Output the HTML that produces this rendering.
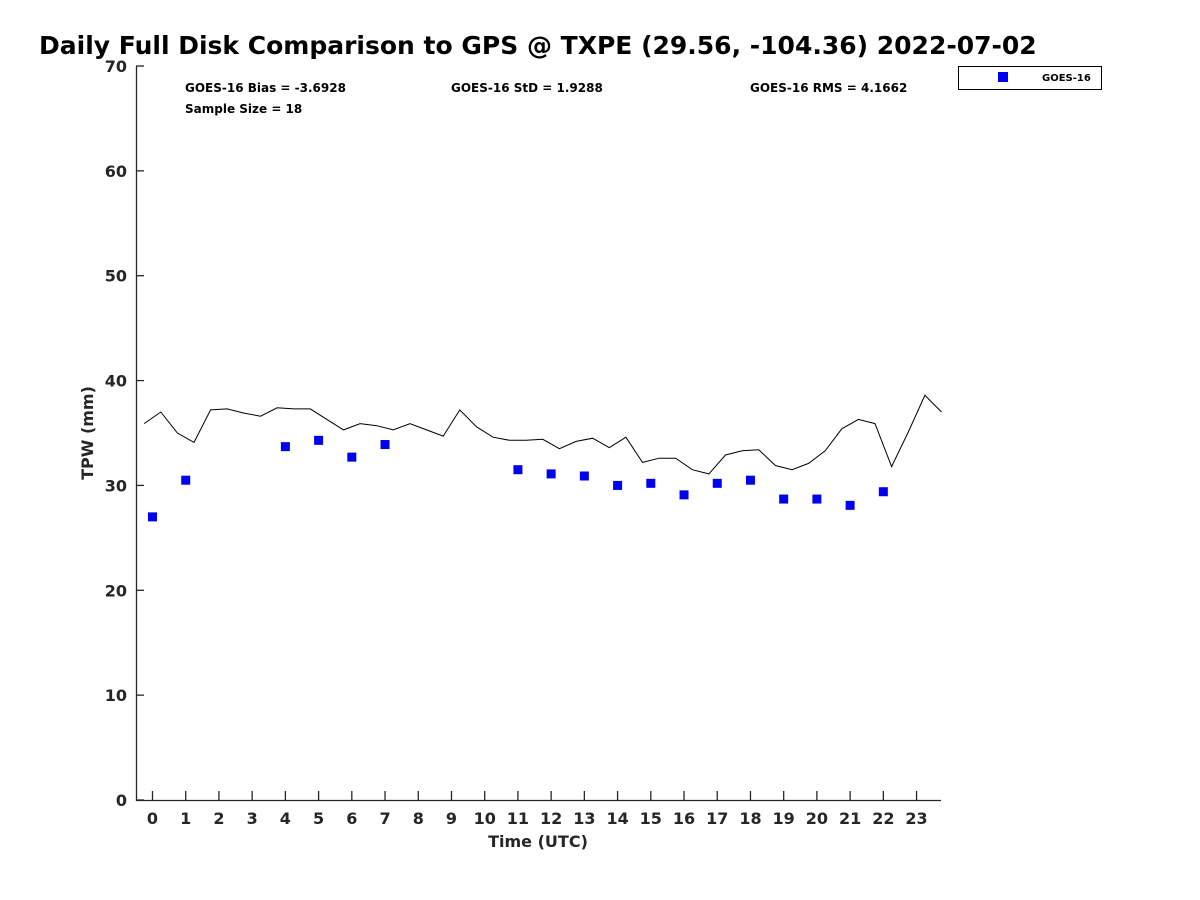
<!DOCTYPE html>
<html><head><meta charset="utf-8"><style>
body{margin:0;background:#fff;}
svg{display:block;font-family:"DejaVu Sans","Liberation Sans",sans-serif;font-weight:bold;}
</style></head><body>
<svg id="chart" width="1200" height="900">
<text x="39" y="54" font-size="25" fill="#000">Daily Full Disk Comparison to GPS @ TXPE (29.56, -104.36) 2022-07-02</text>
<g font-size="12" fill="#000">
<text x="185" y="92">GOES-16 Bias = -3.6928</text>
<text x="451" y="92">GOES-16 StD = 1.9288</text>
<text x="750" y="92">GOES-16 RMS = 4.1662</text>
<text x="185" y="113">Sample Size = 18</text>
</g>
<g id="axes"></g>
<g id="marks"></g>
<text x="538" y="847" font-size="16" text-anchor="middle" fill="#262626">Time (UTC)</text>
<text transform="translate(93,433) rotate(-90)" font-size="16" text-anchor="middle" fill="#262626">TPW (mm)</text>
<g>
<rect x="958.5" y="66.5" width="143" height="23" fill="#fff" stroke="#000"/>
<rect x="998" y="72" width="10" height="10" fill="#0000ee"/>
<text x="1042" y="81" font-size="10" fill="#000">GOES-16</text>
</g>
</svg>
<script>
const gpsTimes = [-0.25,0.25,0.75,1.25,1.75,2.25,2.75,3.25,3.75,4.25,4.75,5.25,5.75,6.25,6.75,7.25,7.75,8.25,8.75,9.25,9.75,10.25,10.75,11.25,11.75,12.25,12.75,13.25,13.75,14.25,14.75,15.25,15.75,16.25,16.75,17.25,17.75,18.25,18.75,19.25,19.75,20.25,20.75,21.25,21.75,22.25,22.75,23.25,23.75];
const gpsValues = [35.9,37.0,35.0,34.1,37.2,37.3,36.9,36.6,37.4,37.3,37.3,36.3,35.3,35.9,35.7,35.3,35.9,35.3,34.7,37.2,35.6,34.6,34.3,34.3,34.4,33.5,34.2,34.5,33.6,34.6,32.2,32.6,32.6,31.5,31.1,32.9,33.3,33.4,31.9,31.5,32.1,33.3,35.4,36.3,35.9,31.8,35.1,38.6,37.0];
const goesHours = [0,1,4,5,6,7,11,12,13,14,15,16,17,18,19,20,21,22];
const goesValues = [27.0,30.5,33.7,34.3,32.7,33.9,31.5,31.1,30.9,30.0,30.2,29.1,30.2,30.5,28.7,28.7,28.1,29.4];
const yTicks = [0,10,20,30,40,50,60,70];
const xTicks = [0,1,2,3,4,5,6,7,8,9,10,11,12,13,14,15,16,17,18,19,20,21,22,23];

const NS='http://www.w3.org/2000/svg';
const L=136,R=941,T=66,B=800;
const xs=h=>152.5+h*33.22;
const ys=v=>B-(v/70)*(B-T);
function mk(tag,attrs,parent){const e=document.createElementNS(NS,tag);for(const k in attrs)e.setAttribute(k,attrs[k]);parent.appendChild(e);return e;}
const axes=document.getElementById('axes'), marks=document.getElementById('marks');
let a=mk('path',{d:`M${L+0.5},${T} V${B+0.5} H${R}`,fill:'none',stroke:'#262626','stroke-width':1.3},axes);


yTicks.forEach(v=>{
  const y=ys(v);
  const t=mk('line',{x1:L,x2:L+8,y1:y,y2:y,stroke:'#262626','stroke-width':1.3},axes);
  
  
  const lb=mk('text',{x:L-9,y:y+6,'font-size':16,'text-anchor':'end',fill:'#262626'},axes);
  lb.textContent=v;
  
  
});
xTicks.forEach(h=>{
  const x=xs(h);
  const t=mk('line',{x1:x,x2:x,y1:B,y2:B-9,stroke:'#262626','stroke-width':1.3},axes);
  
  
  const lb=mk('text',{x:x,y:824,'font-size':16,'text-anchor':'middle',fill:'#262626'},axes);
  lb.textContent=h;
  
  
});
const pts=gpsTimes.map((t,i)=>xs(t).toFixed(1)+','+ys(gpsValues[i]).toFixed(1)).join(' ');
const line=mk('polyline',{points:pts,fill:'none',stroke:'#000','stroke-width':1},marks);


goesHours.forEach((h,i)=>{
  const r=mk('rect',{x:xs(h)-4.5,y:ys(goesValues[i])-4.5,width:9,height:9,fill:'#0000ee'},marks);
  
  
});
</script>
</body></html>
